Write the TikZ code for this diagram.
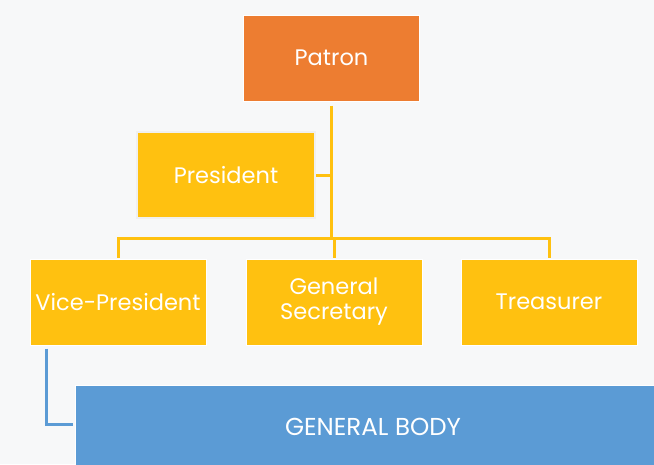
\documentclass[tikz,border=0pt]{standalone}
\usepackage{fontspec}
\setmainfont{Poppins}
\usetikzlibrary{positioning}

\definecolor{patronorange}{HTML}{ED7D31}
\definecolor{officegold}{HTML}{FFC110}
\definecolor{bodyblue}{HTML}{5B9BD5}
\definecolor{pagegray}{HTML}{F7F8F9}

\tikzset{
  post/.style={draw=white, line width=1pt, text=white, font=\fontsize{22.5}{25}\selectfont,
    minimum width=176pt, minimum height=86pt, inner sep=2pt, align=center},
  goldline/.style={draw=officegold, line width=3pt},
  blueline/.style={draw=bodyblue, line width=3pt},
}

\begin{document}
\begin{tikzpicture}[x=1pt, y=-1pt]
  \fill[pagegray] (0,0) rectangle (654,464);
  \useasboundingbox (0,0) rectangle (654,464);

  \node[post, fill=patronorange] (patron) at (331.5,58) {Patron};
  \node[post, fill=officegold, draw=gray!12, line width=2pt,
    minimum width=178pt] (president) at (226,175) {President};

  % second row, left to right
  \def\posts{{"Vice-President","General\\Secretary","Treasurer"}}
  \def\postnames{{"vp","gs","tr"}}
  \foreach \i/\x in {0/118,1/334,2/549} {
    \pgfmathparse{\postnames[\i]}
    \edef\nm{\pgfmathresult}
    \node[post, fill=officegold] (\nm) at (\x,302) {\pgfmathparse{\posts[\i]}\pgfmathresult};
  }

  \node[post, fill=bodyblue, minimum width=596pt, minimum height=84pt,
    font=\fontsize{24.5}{27}\selectfont] (body) at (373,427) {GENERAL BODY};

  \coordinate (bus) at (331.5,238);
  \draw[goldline] ([yshift=-4pt]patron.south) -- (bus);
  \draw[goldline] (president.east) -- (president.east -| bus);
  \draw[goldline] ([yshift=1pt]vp.north) |- (bus) -| ([yshift=1pt]tr.north);
  \draw[goldline] ([yshift=1pt]gs.north) -- (gs.north |- bus);
  \draw[blueline] ([xshift=-72pt,yshift=-3pt]vp.south) |- ([yshift=3pt,xshift=-2pt]body.west);
\end{tikzpicture}
\end{document}
